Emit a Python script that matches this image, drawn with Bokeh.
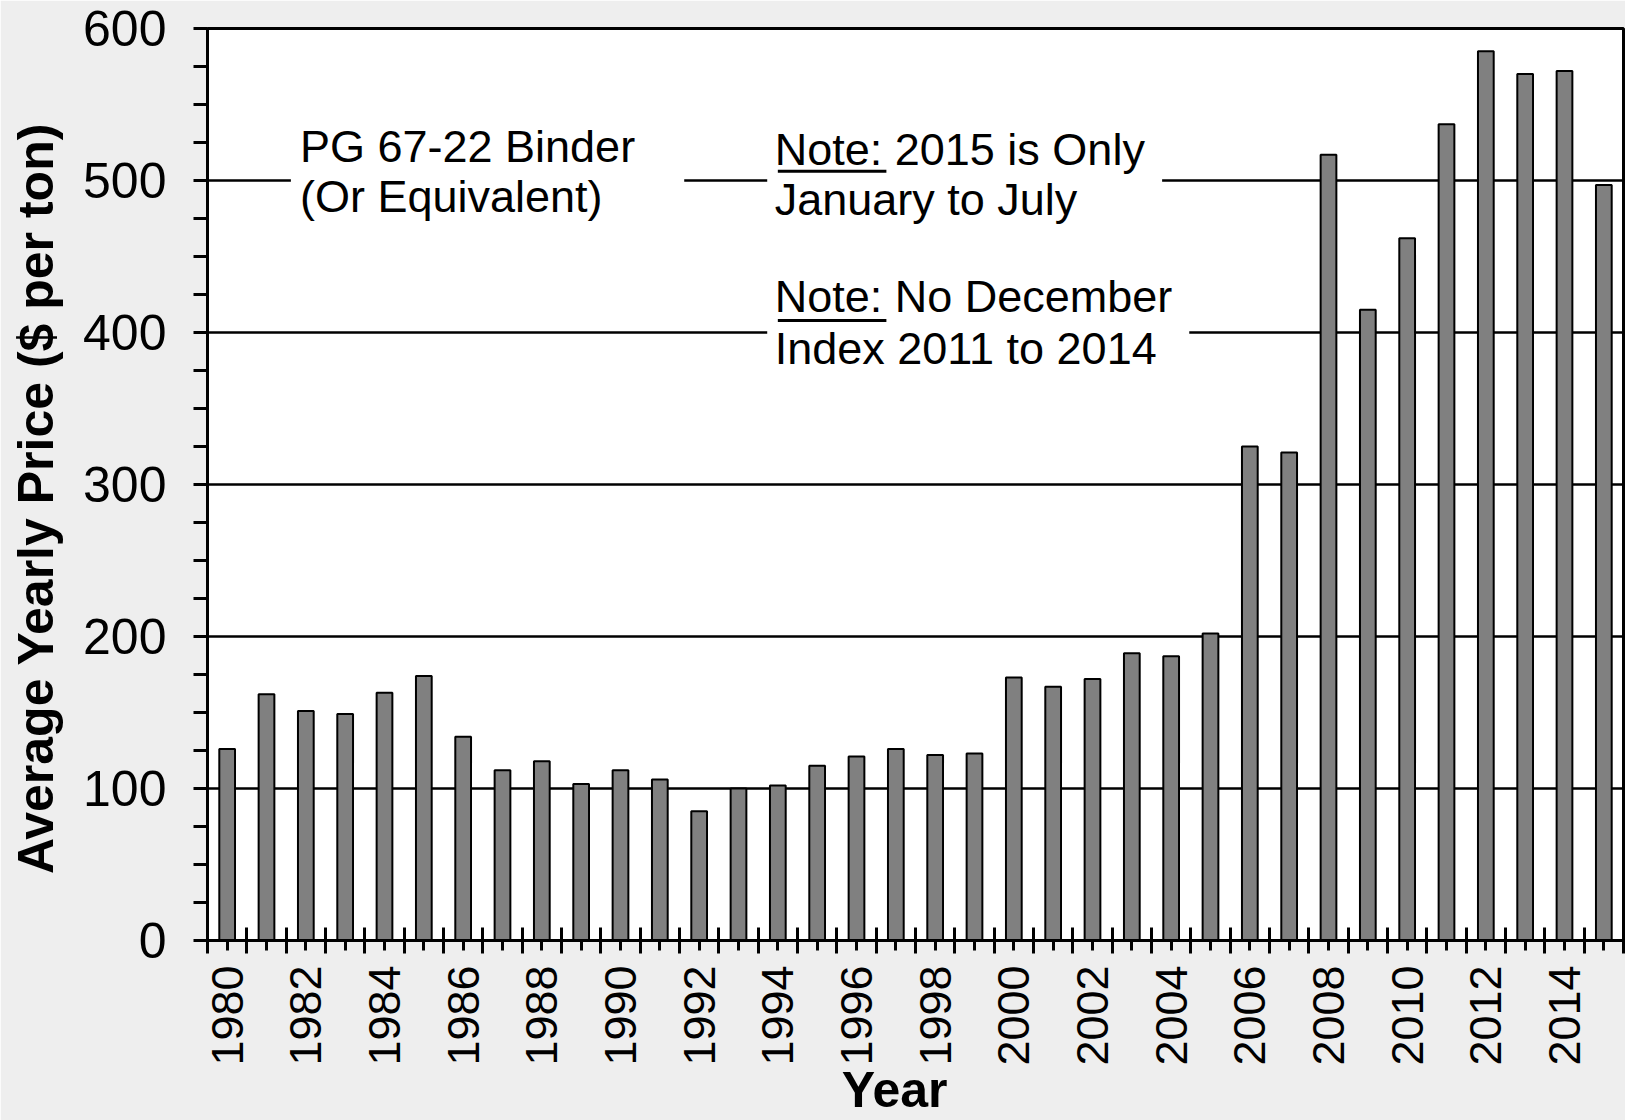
from bokeh.plotting import figure
from bokeh.models import Range1d, FixedTicker, Label
from bokeh.embed import file_html
from bokeh.resources import INLINE

years = list(range(1980, 2016))
prices = [126, 162, 151, 149, 163, 174, 134, 112, 118, 103, 112, 106,
          85, 100, 102, 115, 121, 126, 122, 123, 173, 167, 172, 189,
          187, 202, 325, 321, 517, 415, 462, 537, 585, 570, 572, 497]
y_ticks = [0, 100, 200, 300, 400, 500, 600]
y_minor = [v for v in range(0, 601, 25) if v % 100]
x_label_years = list(range(1980, 2015, 2))

FONT = "Liberation Sans"
NBSP = "\u00a0"

p = figure(width=1625, height=1120, output_backend="svg", toolbar_location=None,
           x_range=Range1d(1979.5, 2015.5), y_range=Range1d(0, 600),
           min_border_left=207, min_border_right=2, min_border_top=28,
           min_border_bottom=180)
p.background_fill_color = "white"
p.border_fill_color = "#eeeeee"
p.outline_line_color = "black"
p.outline_line_width = 3

# grid
p.xgrid.visible = False
p.ygrid.ticker = FixedTicker(ticks=y_ticks)
p.ygrid.grid_line_color = "black"
p.ygrid.grid_line_width = 2.7

# y axis
ya = p.yaxis[0]
ya.ticker = FixedTicker(ticks=y_ticks, minor_ticks=y_minor)
ya.axis_line_width = 3
ya.major_tick_line_width = 3
ya.minor_tick_line_width = 3
ya.major_tick_in = 0
ya.major_tick_out = 14
ya.minor_tick_in = 0
ya.minor_tick_out = 14
ya.major_label_standoff = 27
ya.major_label_text_font = FONT
ya.major_label_text_font_size = "50px"
ya.major_label_text_color = "black"
ya.axis_label = "Average Yearly Price ($ per ton)" + NBSP * 2
ya.axis_label_text_font = FONT
ya.axis_label_text_font_size = "50px"
ya.axis_label_text_font_style = "bold"
ya.axis_label_text_color = "black"
ya.axis_label_standoff = 16

# x axis
xa = p.xaxis[0]
xa.ticker = FixedTicker(ticks=years, minor_ticks=[y - 0.5 for y in years] + [years[-1] + 0.5])
xa.major_label_overrides = {y: (str(y) if y in x_label_years else "") for y in years}
xa.axis_line_width = 3
xa.major_tick_line_width = 3
xa.minor_tick_line_width = 3
xa.major_tick_in = 0
xa.major_tick_out = 10
xa.minor_tick_in = 13
xa.minor_tick_out = 13
xa.major_label_orientation = 3.14159265 / 2
xa.major_label_standoff = 12
xa.major_label_text_font = FONT
xa.major_label_text_font_size = "45px"
xa.major_label_text_color = "black"
xa.axis_label = "Year" + NBSP * 3
xa.axis_label_text_font = FONT
xa.axis_label_text_font_size = "50px"
xa.axis_label_text_font_style = "bold"
xa.axis_label_text_color = "black"
xa.axis_label_standoff = -7

# bars
p.vbar(x=years, top=prices, width=0.4, fill_color="#808080",
       line_color="black", line_width=2)

# white boxes behind the annotation texts
box_left = [1981.62, 1993.73, 1993.73]
box_right = [1991.62, 2003.77, 2004.46]
box_top = [536, 536, 441]
box_bottom = [470, 467, 368]
p.quad(left=box_left, right=box_right, top=box_top, bottom=box_bottom,
       fill_color="white", line_color=None)

# underline of "Note:"
p.segment(x0=[1994.0, 1994.0], x1=[1996.76, 1996.76], y0=[506.1, 407.9], y1=[506.1, 407.9],
          line_color="black", line_width=3)

note_text = ["PG 67-22 Binder", "(Or Equivalent)",
             "Note: 2015 is Only", "January to July",
             "Note: No December", "Index 2011 to 2014"]
note_x = [1981.85, 1981.85, 1993.92, 1993.92, 1993.92, 1993.92]
note_y = [522.3, 489.4, 520.1, 487.6, 423.8, 389.6]
for t, x, y in zip(note_text, note_x, note_y):
    p.add_layout(Label(x=x, y=y, text=t, text_font=FONT, text_font_size="45px",
                       text_color="black", text_align="left", text_baseline="alphabetic"))

open("out.html", "w").write(file_html(p, INLINE))
